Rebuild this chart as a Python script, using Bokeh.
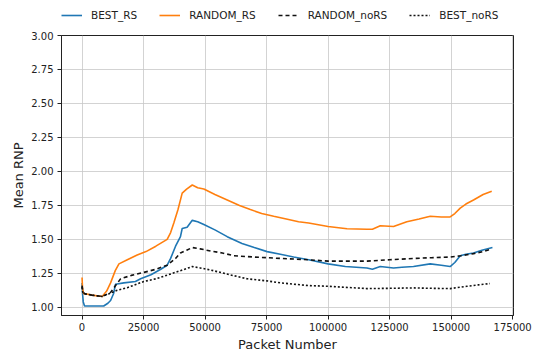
from bokeh.plotting import figure
from bokeh.layouts import column
from bokeh.models import Range1d, FixedTicker, NumeralTickFormatter, Legend, LegendItem
from bokeh.embed import file_html
from bokeh.resources import INLINE

# ---- data ----
best_rs_x = [0, 200, 500, 1000, 3000, 6000, 8800, 10500, 11600, 12800, 13600, 17000, 21700, 23800,
             28000, 32000, 34600, 36000, 38000, 40000, 40700, 42700, 44800, 47000, 49500, 54000,
             59000, 65000, 70000, 75200, 80600, 86000, 92100, 100000, 107000, 115800, 118000,
             121200, 126600, 130000, 134700, 141500, 146000, 149600, 151500, 153700, 156000,
             159100, 162500, 166800]
best_rs_y = [1.18, 1.10, 1.04, 1.01, 1.01, 1.01, 1.01, 1.03, 1.05, 1.10, 1.17, 1.18, 1.19, 1.21,
             1.24, 1.28, 1.31, 1.36, 1.45, 1.52, 1.58, 1.59, 1.64, 1.63, 1.61, 1.57,
             1.52, 1.47, 1.44, 1.41, 1.39, 1.37, 1.35, 1.32, 1.30, 1.29, 1.28,
             1.30, 1.29, 1.295, 1.30, 1.32, 1.31, 1.30, 1.33, 1.38, 1.39,
             1.40, 1.42, 1.44]

random_rs_x = [0, 200, 600, 1500, 4000, 8200, 10000, 11600, 13500, 15000, 18400, 22400, 26000,
               30000, 34600, 36000, 37300, 39000, 40700, 42500, 44800, 47000, 49500, 54000, 59000,
               64000, 68400, 73000, 77900, 83000, 88000, 92100, 100000, 107700, 115800, 118000,
               121200, 126600, 132000, 137000, 141500, 146000, 149600, 151500, 153700, 156000,
               159100, 163000, 166500]
random_rs_y = [1.22, 1.14, 1.10, 1.10, 1.09, 1.08, 1.12, 1.18, 1.27, 1.32, 1.35, 1.385, 1.41,
               1.45, 1.50, 1.55, 1.62, 1.72, 1.84, 1.87, 1.90, 1.88, 1.87, 1.83, 1.79,
               1.75, 1.72, 1.69, 1.67, 1.65, 1.63, 1.62, 1.595, 1.578, 1.575, 1.575,
               1.60, 1.595, 1.63, 1.65, 1.67, 1.665, 1.665, 1.69, 1.73, 1.76,
               1.79, 1.83, 1.855]

random_nors_x = [0, 300, 1000, 4000, 8200, 11600, 14000, 15700, 20000, 25100, 30000, 34600, 38000,
                 40000, 42500, 44800, 48000, 52200, 57000, 61600, 70000, 80600, 92100, 100000,
                 115800, 125000, 134700, 142000, 149600, 154000, 159100, 163000, 166500]
random_nors_y = [1.16, 1.12, 1.10, 1.09, 1.08, 1.11, 1.17, 1.21, 1.235, 1.257, 1.28, 1.31, 1.36,
                 1.40, 1.42, 1.44, 1.43, 1.415, 1.40, 1.38, 1.37, 1.36, 1.35, 1.34,
                 1.34, 1.35, 1.36, 1.365, 1.37, 1.38, 1.395, 1.41, 1.43]

best_nors_x = [0, 300, 1000, 4000, 8200, 11000, 14300, 18400, 25100, 30000, 34600, 40000, 44800,
               48000, 52200, 60000, 67100, 75000, 80600, 92100, 100000, 115800, 125000, 134700,
               142000, 149600, 156400, 161000, 165800]
best_nors_y = [1.15, 1.11, 1.10, 1.09, 1.08, 1.10, 1.126, 1.145, 1.19, 1.21, 1.237, 1.27, 1.30,
               1.29, 1.275, 1.24, 1.21, 1.195, 1.18, 1.16, 1.155, 1.138, 1.14, 1.143,
               1.14, 1.138, 1.155, 1.165, 1.175]

series_names = ["BEST_RS", "RANDOM_RS", "RANDOM_noRS", "BEST_noRS"]

x_ticks = [0, 25000, 50000, 75000, 100000, 125000, 150000, 175000]
y_ticks = [1.00, 1.25, 1.50, 1.75, 2.00, 2.25, 2.50, 2.75, 3.00]

FONT = "DejaVu Sans"
styles = [dict(line_color="#1f77b4", line_width=1.6),
          dict(line_color="#ff7f0e", line_width=1.6),
          dict(line_color="#111111", line_width=1.6, line_dash="4 3"),
          dict(line_color="#111111", line_width=1.6, line_dash="2 2")]

series = [(best_rs_x, best_rs_y), (random_rs_x, random_rs_y),
          (random_nors_x, random_nors_y), (best_nors_x, best_nors_y)]

p = figure(width=533, height=325, output_backend="svg", toolbar_location=None,
           x_range=Range1d(-8350, 175350), y_range=Range1d(0.94, 3.0),
           min_border_left=61, min_border_right=20, min_border_top=5, min_border_bottom=40)
p.background_fill_color = "white"
p.border_fill_color = "white"
p.outline_line_color = "#222222"
p.outline_line_width = 1

for (xs, ys), st in zip(series, styles):
    p.line(xs, ys, **st)

for ax in (p.xaxis[0], p.yaxis[0]):
    ax.major_tick_in = 0
    ax.major_tick_out = 4
    ax.minor_tick_line_color = None
    ax.axis_line_color = "#222222"
    ax.major_tick_line_color = "#222222"
    ax.major_label_text_font = FONT
    ax.major_label_text_font_size = "10px"
    ax.major_label_text_color = "#222222"
    ax.axis_label_text_font = FONT
    ax.axis_label_text_font_size = "13px"
    ax.axis_label_text_font_style = "normal"
    ax.axis_label_text_color = "#222222"

p.xaxis.ticker = FixedTicker(ticks=x_ticks)
p.yaxis.ticker = FixedTicker(ticks=y_ticks)
p.xaxis.formatter = NumeralTickFormatter(format="0")
p.yaxis.formatter = NumeralTickFormatter(format="0.00")
p.xaxis.axis_label = "Packet Number"
p.yaxis.axis_label = "Mean RNP"
p.xaxis.axis_label_standoff = 3
p.yaxis.axis_label_standoff = 2
p.xaxis.major_label_standoff = 3
p.yaxis.major_label_standoff = 4

p.xgrid.ticker = FixedTicker(ticks=x_ticks)
p.ygrid.ticker = FixedTicker(ticks=y_ticks)
p.grid.grid_line_color = "#c8c8c8"
p.grid.grid_line_width = 0.8

# ---- legend strip above the plot (same series, drawn outside its visible range) ----
lg = figure(width=533, height=30, output_backend="svg", toolbar_location=None,
            x_range=Range1d(-8350, 175350), y_range=Range1d(10, 11),
            x_axis_location=None, y_axis_location=None,
            min_border=0, min_border_left=0, min_border_right=0, min_border_top=0, min_border_bottom=0)
lg.outline_line_color = None
lg.grid.visible = False
lg.border_fill_color = "white"
lg.background_fill_color = "white"
items = []
for name, (xs, ys), st in zip(series_names, series, styles):
    r = lg.line(xs, ys, **st)
    items.append(LegendItem(label=name, renderers=[r]))
legend = Legend(items=items, orientation="horizontal", location=(0, 8))
legend.border_line_color = None
legend.background_fill_alpha = 0
legend.label_text_font = FONT
legend.label_text_font_size = "10.5px"
legend.label_text_color = "#222222"
legend.glyph_width = 21
legend.glyph_height = 14
legend.label_standoff = 9
legend.spacing = 22
legend.padding = 4
legend.margin = 0
lg.add_layout(legend, "center")

layout = column(lg, p, spacing=0)
open("out.html", "w").write(file_html(layout, INLINE))
